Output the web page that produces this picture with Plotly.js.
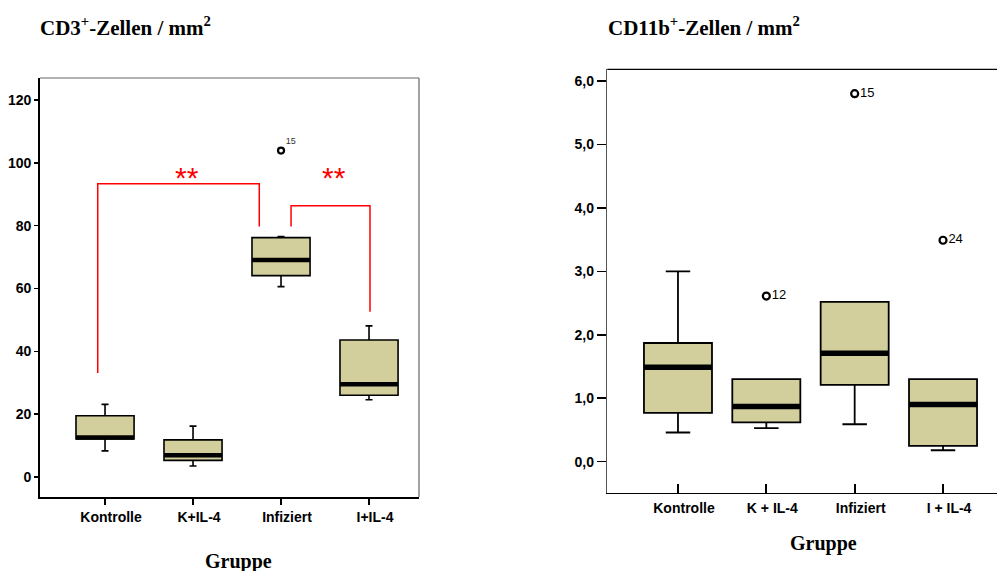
<!DOCTYPE html>
<html>
<head>
<meta charset="utf-8">
<script src="https://cdn.plot.ly/plotly-3.0.1.min.js"></script>
<style>html,body{margin:0;padding:0;background:#fff;}#chart{width:997px;height:571px;}</style>
</head>
<body>
<div id="chart"></div>
<script>
// ---------- DATA ----------
var groupsLeft  = ["Kontrolle", "K+IL-4", "Infiziert", "I+IL-4"];
var groupsRight = ["Kontrolle", "K + IL-4", "Infiziert", "I + IL-4"];

// CD3+ cells / mm2
var cd3Low    = [8.3, 3.5, 60.6, 24.6];
var cd3Q1     = [12.1, 5.3, 64.1, 26.0];
var cd3Median = [12.6, 6.9, 69.1, 29.5];
var cd3Q3     = [19.5, 11.8, 76.2, 43.6];
var cd3High   = [23.1, 16.2, 76.5, 48.1];
var cd3OutGroup = [2];
var cd3OutValue = [103.9];
var cd3OutLabel = ["15"];

// CD11b+ cells / mm2
var cd11Low    = [0.46, 0.53, 0.59, 0.18];
var cd11Q1     = [0.77, 0.62, 1.21, 0.25];
var cd11Median = [1.49, 0.87, 1.71, 0.90];
var cd11Q3     = [1.87, 1.30, 2.52, 1.30];
var cd11High   = [3.00, 1.30, 2.52, 1.30];
var cd11OutGroup = [1, 2, 3];
var cd11OutValue = [2.61, 5.80, 3.49];
var cd11OutLabel = ["12", "15", "24"];

// significance brackets (left chart)
var bracketX1 = [-0.083, 2.114];
var bracketY1 = [33.1, 79.7];
var bracketTop = [93.3, 86.3];
var bracketX2 = [1.753, 3.011];
var bracketY2 = [79.7, 52.6];
var starX = [0.926, 2.602];
var starY = [96.0, 96.0];
var bracketText = ["**", "**"];

// ---------- STYLE ----------
var FILL = "#d3cf9c";
var idx = [0, 1, 2, 3];
var wL = 0.66, wR = 0.77;

function medianLine(med, w) {
  var xs = [], ys = [];
  med.forEach(function (m, i) { xs.push(i - w / 2, i + w / 2, null); ys.push(m, m, null); });
  return {xs: xs, ys: ys};
}
var mL = medianLine(cd3Median, wL);
var mR = medianLine(cd11Median, wR);

var traces = [
  {type: "box", x: idx, q1: cd3Q1, median: cd3Median, q3: cd3Q3, lowerfence: cd3Low, upperfence: cd3High,
   width: wL, whiskerwidth: 0.12, fillcolor: FILL, line: {color: "#000", width: 1.6},
   boxpoints: false, hoverinfo: "skip", xaxis: "x", yaxis: "y", showlegend: false},
  {type: "scatter", mode: "lines", x: mL.xs, y: mL.ys, line: {color: "#000", width: 4.5},
   xaxis: "x", yaxis: "y", showlegend: false, hoverinfo: "skip"},
  {type: "scatter", mode: "markers+text", x: cd3OutGroup, y: cd3OutValue, text: cd3OutLabel,
   textposition: "top right", textfont: {family: "Liberation Sans, Arial", size: 9, color: "#333"},
   marker: {symbol: "circle-open", size: 6, color: "#000", line: {width: 2.2, color: "#000"}},
   xaxis: "x", yaxis: "y", showlegend: false, hoverinfo: "skip"},

  {type: "box", x: idx, q1: cd11Q1, median: cd11Median, q3: cd11Q3, lowerfence: cd11Low, upperfence: cd11High,
   width: wR, whiskerwidth: 0.36, fillcolor: FILL, line: {color: "#000", width: 1.8},
   boxpoints: false, hoverinfo: "skip", xaxis: "x2", yaxis: "y2", showlegend: false},
  {type: "scatter", mode: "lines", x: mR.xs, y: mR.ys, line: {color: "#000", width: 5.5},
   xaxis: "x2", yaxis: "y2", showlegend: false, hoverinfo: "skip"},
  {type: "scatter", mode: "markers+text", x: cd11OutGroup, y: cd11OutValue, text: cd11OutLabel,
   textposition: "middle right", textfont: {family: "Liberation Sans, Arial", size: 13, color: "#000"},
   marker: {symbol: "circle-open", size: 7, color: "#000", line: {width: 2.2, color: "#000"}},
   xaxis: "x2", yaxis: "y2", showlegend: false, hoverinfo: "skip"}
];

bracketX1.forEach(function (x1, i) {
  traces.push({type: "scatter", mode: "lines",
    x: [x1, x1, bracketX2[i], bracketX2[i]],
    y: [bracketY1[i], bracketTop[i], bracketTop[i], bracketY2[i]],
    line: {color: "#ff0000", width: 1.5}, xaxis: "x", yaxis: "y", showlegend: false, hoverinfo: "skip"});
});

var annotations = [];
starX.forEach(function (sx, i) {
  annotations.push({xref: "x", yref: "y", x: sx, y: starY[i], yshift: -2,
    text: bracketText[i], showarrow: false, yanchor: "middle",
    font: {family: "Liberation Sans, Arial", size: 30, color: "#ff0000"}});
});
annotations.push(
  {xref: "paper", yref: "paper", x: 38 / 997, y: 1 - 27 / 571, xanchor: "left", yanchor: "middle",
   text: "CD3<sup>+</sup>-Zellen / mm<sup>2</sup>", showarrow: false,
   font: {family: "Liberation Serif, Times New Roman", size: 21, color: "#000", weight: "bold"}},
  {xref: "paper", yref: "paper", x: 606 / 997, y: 1 - 27 / 571, xanchor: "left", yanchor: "middle",
   text: "CD11b<sup>+</sup>-Zellen / mm<sup>2</sup>", showarrow: false,
   font: {family: "Liberation Serif, Times New Roman", size: 21, color: "#000", weight: "bold"}},
  {xref: "paper", yref: "paper", x: 238 / 997, y: 1 - 561 / 571, xanchor: "center", yanchor: "middle",
   text: "Gruppe", showarrow: false,
   font: {family: "Liberation Serif, Times New Roman", size: 20, color: "#000", weight: "bold"}},
  {xref: "paper", yref: "paper", x: 823 / 997, y: 1 - 543 / 571, xanchor: "center", yanchor: "middle",
   text: "Gruppe", showarrow: false,
   font: {family: "Liberation Serif, Times New Roman", size: 20, color: "#000", weight: "bold"}}
);

var leftXFont = {family: "Liberation Sans, Arial", size: 14, color: "#000", weight: "bold"};
var leftYFont = {family: "Liberation Sans, Arial", size: 14, color: "#000", weight: "bold"};
var rightFont = {family: "Liberation Sans, Arial", size: 14, color: "#000", weight: "bold"};

var layout = {
  width: 997, height: 571,
  margin: {l: 0, r: 0, t: 0, b: 0},
  paper_bgcolor: "#fff", plot_bgcolor: "#fff",
  separators: ",.",
  showlegend: false,
  xaxis: {domain: [40 / 997, 419 / 997], range: [-0.739, 3.568], tickvals: idx, ticktext: groupsLeft,
    ticks: "outside", ticklen: 6, tickwidth: 1.5, tickcolor: "#000", ticklabelshift: 6, ticklabelstandoff: 1,
    showline: true, linecolor: "#000", linewidth: 1.5, showgrid: false, zeroline: false,
    tickfont: leftXFont, anchor: "y", fixedrange: true},
  yaxis: {domain: [1 - 497 / 571, 1 - 78 / 571], range: [-6.37, 127.0], tickvals: [0, 20, 40, 60, 80, 100, 120],
    ticks: "outside", ticklen: 4, tickwidth: 1.5, tickcolor: "#000",
    showline: true, linecolor: "#000", linewidth: 1.8, showgrid: false, zeroline: false,
    tickfont: leftYFont, anchor: "x", fixedrange: true},
  xaxis2: {domain: [607.3 / 997, 1], range: [-0.80, 3.611], tickvals: idx, ticktext: groupsRight,
    ticks: "inside", ticklen: 9, tickwidth: 1.8, tickcolor: "#000", ticklabelshift: 6, ticklabelstandoff: 2,
    showline: true, linecolor: "#000", linewidth: 1.5, showgrid: false, zeroline: false,
    tickfont: rightFont, anchor: "y2", fixedrange: true},
  yaxis2: {domain: [1 - 492.7 / 571, 1 - 69.3 / 571], range: [-0.489, 6.184], tickvals: [0, 1, 2, 3, 4, 5, 6],
    tickformat: ".1f", ticks: "outside", ticklen: 9, tickwidth: 1.5, tickcolor: "#000",
    showline: true, linecolor: "#555", linewidth: 1.5, showgrid: false, zeroline: false,
    tickfont: rightFont, anchor: "x2", fixedrange: true},
  shapes: [
    {type: "line", xref: "x domain", yref: "y domain", x0: 0, x1: 1, y0: 1, y1: 1, line: {color: "#666", width: 1.2}},
    {type: "line", xref: "x domain", yref: "y domain", x0: 1, x1: 1, y0: 0, y1: 1, line: {color: "#666", width: 1.2}},
    {type: "line", xref: "x2 domain", yref: "y2 domain", x0: 0, x1: 1, y0: 1, y1: 1, line: {color: "#000", width: 1.2}}
  ],
  annotations: annotations
};

Plotly.newPlot("chart", traces, layout, {displayModeBar: false, staticPlot: true});
</script>
</body>
</html>
